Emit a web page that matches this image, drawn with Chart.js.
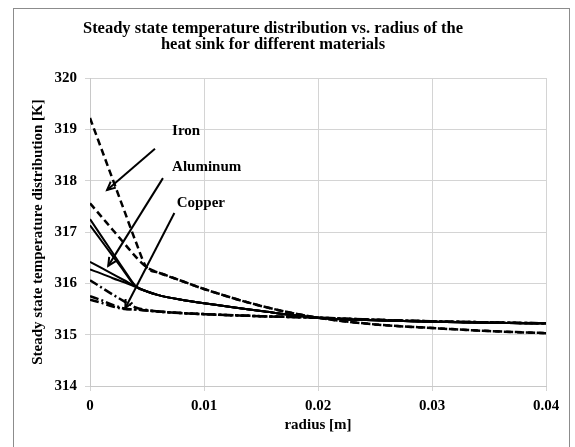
<!DOCTYPE html>
<html>
<head>
<meta charset="utf-8">
<script src="https://cdn.jsdelivr.net/npm/chart.js@4.4.1/dist/chart.umd.min.js"></script>
<style>
  html, body { margin: 0; padding: 0; background: #fff; }
  #wrap { width: 575px; height: 447px; position: relative; }
</style>
</head>
<body>
<div id="wrap"><canvas id="myChart" width="575" height="447"></canvas></div>
<script>
// radius [m]
const radius = [0, 0.001, 0.002, 0.003, 0.004, 0.005, 0.006, 0.008, 0.01, 0.015, 0.02, 0.025, 0.03, 0.035, 0.04];

// temperatures [K]
const iron1 = [319.22, 318.62, 318.02, 317.42, 316.82, 316.30, 316.21, 316.05, 315.89, 315.56, 315.33, 315.20, 315.13, 315.07, 315.03];
const iron2 = [317.56, 317.30, 317.04, 316.78, 316.52, 316.31, 316.21, 316.05, 315.89, 315.56, 315.33, 315.20, 315.13, 315.07, 315.03];
const alu1 = [317.25, 316.92, 316.59, 316.26, 315.95, 315.84, 315.77, 315.68, 315.61, 315.46, 315.33, 315.28, 315.25, 315.23, 315.22];
const alu2 = [317.13, 316.83, 316.53, 316.23, 315.94, 315.84, 315.77, 315.68, 315.61, 315.46, 315.33, 315.28, 315.25, 315.23, 315.22];
const alu3 = [316.42, 316.30, 316.18, 316.06, 315.94, 315.84, 315.77, 315.68, 315.61, 315.46, 315.33, 315.28, 315.25, 315.23, 315.22];
const alu4 = [316.27, 316.19, 316.10, 316.02, 315.93, 315.84, 315.77, 315.68, 315.61, 315.46, 315.33, 315.28, 315.25, 315.23, 315.22];
const cu1 = [316.06, 315.92, 315.78, 315.65, 315.53, 315.48, 315.45, 315.42, 315.40, 315.36, 315.33, 315.29, 315.26, 315.24, 315.22];
const cu2 = [315.75, 315.67, 315.58, 315.51, 315.49, 315.47, 315.45, 315.42, 315.40, 315.36, 315.33, 315.29, 315.26, 315.24, 315.22];
const cu3 = [315.68, 315.62, 315.55, 315.50, 315.49, 315.47, 315.45, 315.42, 315.40, 315.36, 315.33, 315.29, 315.26, 315.24, 315.22];

// axis ticks
const xTicks = [0, 0.01, 0.02, 0.03, 0.04];
const yTicks = [314, 315, 316, 317, 318, 319, 320];

// callouts: text, text position [r, T], arrow from [r, T] to [r, T]
const calloutText = ['Iron', 'Aluminum', 'Copper'];
const calloutAt = [[0.0072, 318.97], [0.0072, 318.27], [0.0076, 317.56]];
const arrowFrom = [[0.0057, 318.62], [0.0064, 318.05], [0.0074, 317.37]];
const arrowTo = [[0.0015, 317.82], [0.0016, 316.34], [0.0031, 315.52]];

const serif = '"Liberation Serif", "Times New Roman", serif';

function toPoints(arr) {
  return arr.map((v, i) => ({ x: radius[i], y: v }));
}

function line(label, arr, dash, width) {
  return {
    label: label,
    data: toPoints(arr),
    borderColor: '#000',
    backgroundColor: '#000',
    borderWidth: width,
    borderDash: dash,
    pointRadius: 0,
    cubicInterpolationMode: 'monotone',
    fill: false
  };
}

const dashed = [7, 4];
const dashDot = [9, 3, 2, 3];

const data = {
  datasets: [
    line('Iron 1', iron1, dashed, 2.5),
    line('Iron 2', iron2, dashed, 2.5),
    line('Aluminum 1', alu1, [], 2),
    line('Aluminum 2', alu2, [], 2),
    line('Aluminum 3', alu3, [], 2),
    line('Aluminum 4', alu4, [], 2),
    line('Copper 1', cu1, dashDot, 2.5),
    line('Copper 2', cu2, dashDot, 2.5),
    line('Copper 3', cu3, dashDot, 2.5)
  ]
};

// frame around the whole chart, like the spreadsheet export
const framePlugin = {
  id: 'frame',
  beforeDraw(chart) {
    const ctx = chart.ctx;
    ctx.save();
    ctx.fillStyle = '#fff';
    ctx.fillRect(0, 0, chart.width, chart.height);
    ctx.strokeStyle = '#8c8c8c';
    ctx.lineWidth = 1;
    ctx.strokeRect(13.5, 8.5, 556, 460);
    ctx.restore();
  }
};

// labels with arrows, placed in data units
const calloutPlugin = {
  id: 'callouts',
  afterDatasetsDraw(chart) {
    const ctx = chart.ctx;
    const xs = chart.scales.x, ys = chart.scales.y;
    ctx.save();
    ctx.fillStyle = '#000';
    ctx.strokeStyle = '#000';
    ctx.lineWidth = 2;
    ctx.font = 'bold 15px ' + serif;
    ctx.textAlign = 'left';
    ctx.textBaseline = 'middle';
    calloutText.forEach((t, i) => {
      ctx.fillText(t, xs.getPixelForValue(calloutAt[i][0]), ys.getPixelForValue(calloutAt[i][1]));
      const x1 = xs.getPixelForValue(arrowFrom[i][0]), y1 = ys.getPixelForValue(arrowFrom[i][1]);
      const x2 = xs.getPixelForValue(arrowTo[i][0]), y2 = ys.getPixelForValue(arrowTo[i][1]);
      ctx.beginPath();
      ctx.moveTo(x1, y1);
      ctx.lineTo(x2, y2);
      ctx.stroke();
      const a = Math.atan2(y2 - y1, x2 - x1);
      const h = 9;
      ctx.beginPath();
      ctx.moveTo(x2 - h * Math.cos(a - 0.45), y2 - h * Math.sin(a - 0.45));
      ctx.lineTo(x2, y2);
      ctx.lineTo(x2 - h * Math.cos(a + 0.45), y2 - h * Math.sin(a + 0.45));
      ctx.stroke();
    });
    ctx.restore();
  }
};

const config = {
  type: 'line',
  data,
  plugins: [framePlugin, calloutPlugin],
  options: {
    responsive: false,
    animation: false,
    layout: { padding: { left: 0, right: 29, top: 0, bottom: 0 } },
    plugins: {
      legend: { display: false },
      tooltip: { enabled: false },
      title: {
        display: true,
        text: ['Steady state temperature distribution vs. radius of the', 'heat sink for different materials'],
        color: '#000',
        font: { family: serif, size: 16.5, weight: 'bold', lineHeight: 1.0 },
        padding: { top: 20, bottom: 25 }
      }
    },
    scales: {
      x: {
        type: 'linear',
        min: 0,
        max: 0.04,
        afterFit(scale) { scale.height = 61; },
        afterBuildTicks(scale) { scale.ticks = xTicks.map(v => ({ value: v })); },
        grid: { color: '#d4d4d4', lineWidth: 1, tickLength: 5, drawTicks: true },
        border: { color: '#c8c8c8' },
        ticks: {
          color: '#000',
          padding: 6,
          font: { family: serif, size: 15, weight: 'bold' },
          callback: v => String(+v.toFixed(2))
        },
        title: {
          display: true,
          text: 'radius [m]',
          color: '#000',
          font: { family: serif, size: 15, weight: 'bold', lineHeight: 1.2 },
          padding: { top: 0, bottom: 13 }
        }
      },
      y: {
        min: 314,
        max: 320,
        afterFit(scale) { scale.width = 90; },
        afterBuildTicks(scale) { scale.ticks = yTicks.map(v => ({ value: v })); },
        grid: { color: '#d4d4d4', lineWidth: 1, tickLength: 5 },
        border: { color: '#c8c8c8' },
        ticks: {
          color: '#000',
          padding: 8,
          font: { family: serif, size: 15, weight: 'bold' }
        },
        title: {
          display: true,
          text: 'Steady state temperature distribution [K]',
          color: '#000',
          font: { family: serif, size: 15, weight: 'bold', lineHeight: 1.2 },
          padding: { top: 29, bottom: 0 }
        }
      }
    }
  }
};

const myChart = new Chart(document.getElementById('myChart'), config);
</script>
</body>
</html>
